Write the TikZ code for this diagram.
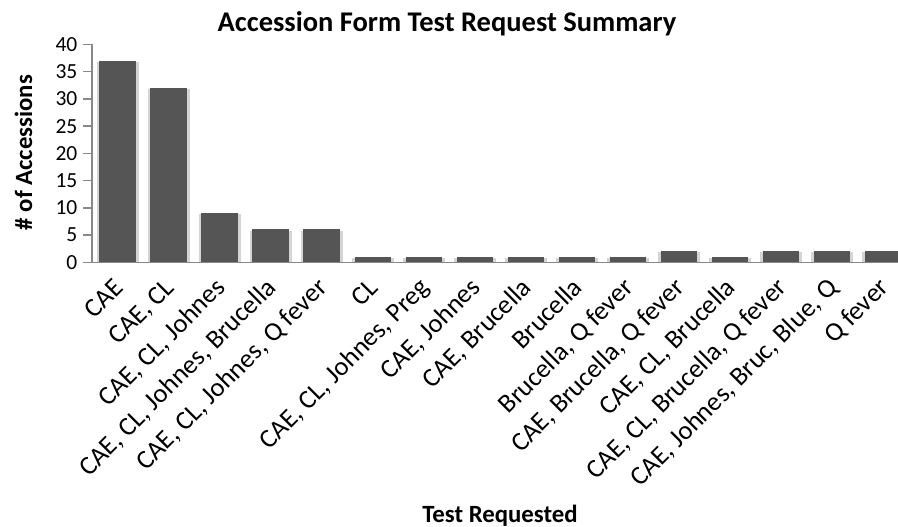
\documentclass[tikz,border=0pt]{standalone}
\usepackage{fontspec}
\setmainfont{Carlito}
\definecolor{barfill}{HTML}{555555}
\definecolor{barshade}{HTML}{D4D4D4}
\definecolor{axisgray}{HTML}{888888}
\begin{document}
\begin{tikzpicture}[x=1pt,y=-1pt,
  axisline/.style={draw=axisgray,line width=1.6pt},
  tickline/.style={draw=axisgray,line width=1.4pt},
  ticklabel/.style={anchor=east,inner sep=0pt,font=\fontsize{21.5}{24}\selectfont},
  catlabel/.style={anchor=base east,rotate=45,inner sep=0pt,font=\fontsize{26.5}{30}\selectfont},
  barbox/.style={fill=barfill,draw=none},
  barshadow/.style={fill=barshade,draw=none},
  charttitle/.style={inner sep=0pt,font=\bfseries\fontsize{28.5}{32}\selectfont},
  axistitle/.style={inner sep=0pt,font=\bfseries\fontsize{24.8}{28}\selectfont}]
\useasboundingbox (0,0) rectangle (898,527);
\clip (0,0) rectangle (898,527);
% value axis: y(v) = 262.3 - 5.445 v
\def\yzero{262.3}
\def\yunit{5.445}
\def\xzero{117.5}
\def\pitch{51.04}
\def\halfw{18.2}

% bars with a soft shade behind them
\foreach \v [count=\i] in {37,32,9,6,6,1,1,1,1,1,1,2,1,2,2,2}{
  \pgfmathsetmacro{\cx}{\xzero+(\i-1)*\pitch}
  \pgfmathsetmacro{\top}{\yzero-\v*\yunit}
  \fill[barshadow] (\cx-\halfw-2.5,\top+1) rectangle (\cx+\halfw+3,\yzero);
  \node[barbox,minimum width=36.4pt,minimum height={\v*\yunit*1pt},inner sep=0pt,anchor=south]
    (bar\i) at (\cx,\yzero) {};
}

% axes
\coordinate (origin) at (91.7,\yzero);
\coordinate (ytop) at (91.7,44.5);
\coordinate (xend) at (898,\yzero);
\coordinate (xstart) at (83.3,\yzero);
\draw[axisline] (ytop) -- (origin);
\draw[axisline] (xstart) -- (xend);

% ticks and tick labels
\foreach \t in {0,5,...,40}{
  \pgfmathsetmacro{\ty}{\yzero-\t*\yunit}
  \coordinate (tick\t) at (83.3,\ty);
  \draw[tickline] (tick\t) -- ++(8.4,0);
  \node[ticklabel] (tl\t) at (77.5,\ty) {\t};
}

% category labels
\foreach \lab [count=\i] in {CAE,{CAE, CL},{CAE, CL, Johnes},{CAE, CL, Johnes, Brucella},
  {CAE, CL, Johnes, Q fever},CL,{CAE, CL, Johnes, Preg},{CAE, Johnes},{CAE, Brucella},
  Brucella,{Brucella, Q fever},{CAE, Brucella, Q fever},{CAE, CL, Brucella},
  {CAE, CL, Brucella, Q fever},{CAE, Johnes, Bruc, Blue, Q},{Q fever}}{
  \pgfmathsetmacro{\cx}{\xzero+(\i-1)*\pitch+7}
  \node[catlabel] (cat\i) at (\cx,289) {\lab};
}

% titles
\node[charttitle,anchor=base] (title) at (447,31.5) {Accession Form Test Request Summary};
\node[axistitle,anchor=base] (xtitle) at (500,522) {Test Requested};
\node[axistitle,anchor=base,rotate=90] (ytitle) at (32,152.5) {\# of Accessions};
\end{tikzpicture}
\end{document}
